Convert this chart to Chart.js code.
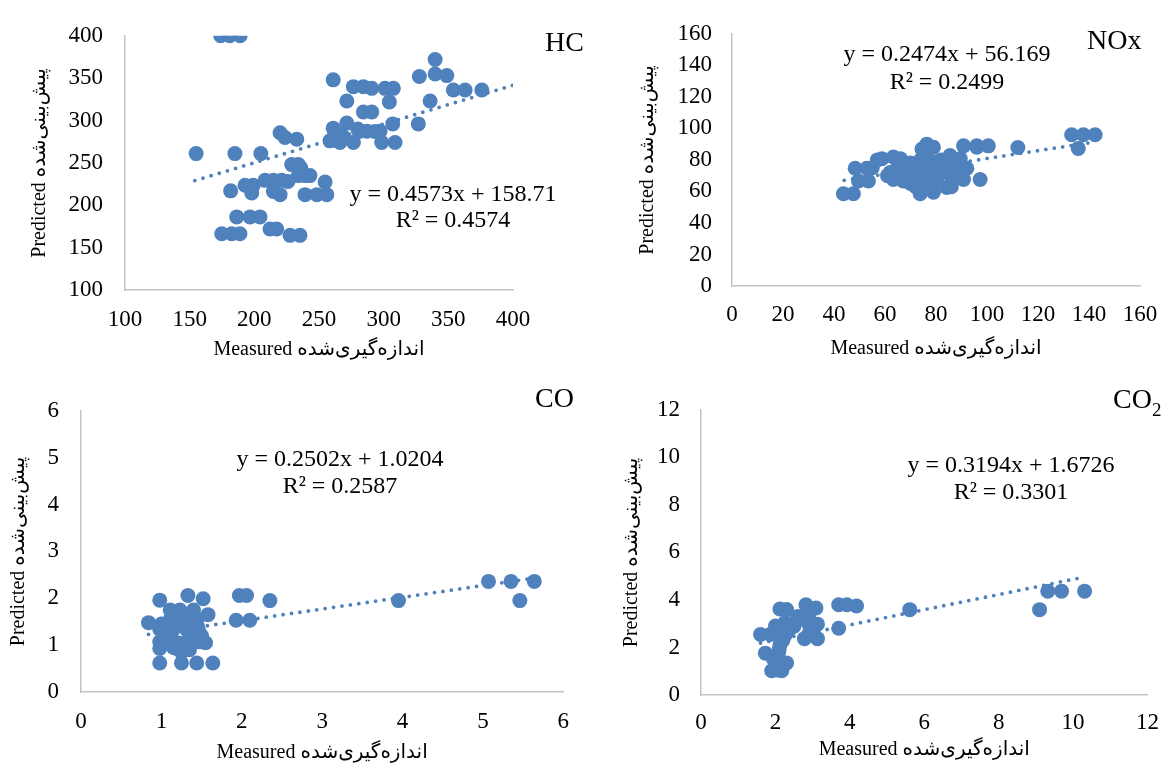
<!DOCTYPE html>
<html>
<head>
<meta charset="utf-8">
<script src="https://cdn.jsdelivr.net/npm/chart.js@4/dist/chart.umd.min.js"></script>
<style>
  body { margin: 0; background: #fff; }
  #wrap { position: relative; width: 1173px; height: 771px; overflow: hidden; }
  canvas { position: absolute; }
</style>
</head>
<body>
<div id="wrap">
  <canvas id="hcChart" width="585" height="375" style="left:0;top:0"></canvas>
  <canvas id="noxChart" width="588" height="375" style="left:585px;top:0"></canvas>
  <canvas id="coChart" width="585" height="396" style="left:0;top:375px"></canvas>
  <canvas id="co2Chart" width="588" height="396" style="left:585px;top:375px"></canvas>
</div>
<script>
// ---- HC (measured vs predicted) ----
const hcMeasured = [174, 181, 189, 155, 185, 205, 261, 271.5, 276.6, 284.3, 290.8, 301, 307.5, 304.4,
    284.3, 290.8, 261, 271.5, 258.5, 266.2, 276.6, 287, 297.2, 298.5, 308.8, 307, 326.8, 335.9,
    327.6, 339.8, 339.8, 348.8, 353.9, 363, 375.9, 219.9, 232.8, 223.7, 234, 234, 239.2, 228.9,
    181.7, 192.8, 199.2, 198, 208.3, 214.7, 221.2, 214.7, 219.9, 239.2, 248.3, 256, 254.7,
    186.4, 196.7, 204.4, 212.1, 217.3, 174.8, 182.5, 188.9, 227.6, 235.3,
    243, 236, 226, 262, 268, 280, 262, 281, 293];
const hcPredicted = [400, 400, 400, 261, 261, 261, 348, 323, 340, 340, 338, 338, 338, 322,
    310, 310, 291, 297, 276, 274, 274, 287.5, 287.5, 274, 274, 296, 296, 323,
    352, 372, 355, 353, 336, 336, 336, 285.6, 278, 280, 248, 235, 235, 248,
    217, 223.7, 223.7, 214.4, 229.4, 229.4, 229.4, 216.2, 212.5, 212.5, 212.5, 212.5, 227.5,
    186.3, 186.3, 186.3, 172, 172, 166.4, 166.4, 166.4, 164.5, 164.5,
    235, 244, 228, 287, 282, 290, 277, 287, 287];
const hcTrendX = [154, 400];
const hcSlope = 0.4573, hcIntercept = 158.71;

// ---- NOx ----
const noxMeasured = [43.7, 47.6, 48.3, 52.9, 49.6, 53.5, 58.8, 63.3, 66, 63.3, 67.2, 72.5, 68.6, 73.9,
    76.4, 74.5, 79, 81.6, 73.8, 79, 84.2, 85.5, 89.5, 80.3, 90.8, 96, 100.5, 92.1, 90.8, 97.3,
    112.1, 133.2, 137.8, 142.4, 135.8, 55, 62, 70, 76, 78, 83, 86, 72, 77,
    57, 65, 68, 74, 79, 82, 84, 88, 61, 70, 76, 80, 86, 96];
const noxPredicted = [58.5, 58.5, 74.7, 74.7, 66.6, 66.6, 80.8, 81.8, 80.8, 67.6, 66.6, 68.6, 74.7, 74.7,
    90, 86.9, 78.7, 72.7, 58.5, 59.5, 62.5, 82.8, 80.8, 66.6, 88.9, 88.9, 88.9, 74.7, 67.6, 67.6,
    87.9, 96, 96, 96, 87.3, 75, 72, 78, 84, 74, 77, 70, 63, 62,
    80, 75, 72, 80, 88, 80, 72, 75, 70, 65, 67, 75, 63, 88];
const noxTrendX = [44, 142];
const noxSlope = 0.2474, noxIntercept = 56.169;

// ---- CO ----
const coMeasured = [0.98, 1.33, 1.52, 0.84, 1.11, 1.23, 1.40, 1.58, 0.98, 1.15, 1.31, 1.46, 1.11, 1.44,
    0.98, 1.15, 1.31, 1.48, 0.98, 1.19, 0.98, 1.25, 1.44, 1.64, 1.97, 2.06, 2.35, 1.93, 2.10,
    3.95, 5.07, 5.35, 5.64, 5.46, 1.05, 1.2, 1.35, 1.5, 1.25, 1.4, 1.55,
    1.1, 1.2, 1.3, 1.45, 1.0, 1.15, 1.35, 1.25];
const coPredicted = [1.96, 2.06, 1.99, 1.48, 1.75, 1.75, 1.75, 1.65, 1.34, 1.34, 1.34, 1.34, 1.55, 1.55,
    1.07, 1.07, 1.07, 1.07, 0.93, 0.93, 0.62, 0.62, 0.62, 0.62, 2.06, 2.06, 1.95, 1.53, 1.53,
    1.95, 2.36, 2.36, 2.36, 1.95, 1.2, 1.45, 1.1, 1.2, 0.85, 1.55, 1.05,
    1.3, 1.05, 1.6, 1.4, 1.45, 0.95, 0.9, 1.7];
const coTrendX = [0.84, 5.64];
const coSlope = 0.2502, coIntercept = 1.0204;

// ---- CO2 ----
const co2Measured = [2.12, 2.82, 3.09, 3.70, 3.92, 4.18, 1.60, 1.86, 2.26, 2.52, 2.26, 2.87, 3.13,
    2.78, 3.13, 3.70, 1.73, 2.08, 1.90, 2.17, 2.30, 2.12, 5.61, 9.10, 9.32, 9.69, 10.31,
    2.0, 2.4, 2.2, 1.95, 2.05, 2.6, 2.9,
    2.2, 2.5, 2.1, 2.3, 2.05, 2.9, 3.0];
const co2Predicted = [3.62, 3.80, 3.66, 3.80, 3.80, 3.75, 2.55, 2.55, 3.05, 3.05, 2.52, 3.05, 2.98,
    2.37, 2.37, 2.81, 1.76, 1.76, 1.02, 1.02, 1.35, 2.10, 3.59, 3.59, 4.37, 4.37, 4.37,
    2.9, 2.8, 2.3, 1.5, 1.25, 3.3, 2.6,
    2.6, 2.9, 1.9, 3.6, 1.05, 3.4, 2.9];
const co2TrendX = [1.6, 10.15];
const co2Slope = 0.3194, co2Intercept = 1.6726;

const BLUE = '#4F81BD';
const AXIS_GREY = '#C4C4C4';
const SERIF = "'Liberation Serif', 'Times New Roman', serif";
const TITLE_FONT = "'Liberation Serif', 'DejaVu Sans', serif";

function zipPoints(xs, ys) {
    return xs.map((x, i) => ({ x: x, y: ys[i] }));
}

// equation text + panel name, drawn on top of the plot
const labelPlugin = {
    id: 'panelLabels',
    afterDraw(chart, args, opts) {
        const ctx = chart.ctx;
        ctx.save();
        ctx.fillStyle = '#000';
        ctx.textBaseline = 'middle';
        ctx.textAlign = 'center';
        ctx.font = '24px ' + SERIF;
        opts.eq.forEach(l => ctx.fillText(l.text, l.x, l.y));
        ctx.textAlign = 'left';
        ctx.font = '28px ' + SERIF;
        ctx.fillText(opts.name, opts.nameX, opts.nameY);
        if (opts.sub) {
            const w = ctx.measureText(opts.name).width;
            ctx.font = '19px ' + SERIF;
            ctx.fillText(opts.sub, opts.nameX + w, opts.nameY + 10);
        }
        ctx.restore();
    }
};

function makePanel(id, p) {
    const trend = p.trendX.map(x => ({ x: x, y: p.slope * x + p.intercept }));
    return new Chart(document.getElementById(id), {
        type: 'scatter',
        data: {
            datasets: [{
                data: zipPoints(p.xs, p.ys),
                backgroundColor: BLUE,
                borderWidth: 0,
                pointRadius: 7.5,
                pointHoverRadius: 7.5
            }, {
                type: 'line',
                data: trend,
                borderColor: BLUE,
                borderWidth: 3.8,
                borderDash: [0, 8.5],
                borderCapStyle: 'round',
                pointRadius: 0,
                fill: false
            }]
        },
        options: {
            responsive: false,
            animation: false,
            events: [],
            layout: { padding: { left: 0, top: p.padTop, right: p.padRight, bottom: 0 } },
            plugins: {
                legend: { display: false },
                tooltip: { enabled: false },
                panelLabels: p.labels
            },
            scales: {
                x: {
                    type: 'linear',
                    min: p.xMin, max: p.xMax,
                    ticks: { stepSize: p.xStep, padding: p.xTickPad, color: '#000', font: { family: SERIF, size: 23 } },
                    grid: { display: true, drawOnChartArea: false, drawTicks: false },
                    border: { display: true, color: AXIS_GREY, width: 1.5 },
                    title: {
                        display: true, text: 'Measured اندازه‌گیری‌شده', color: '#000',
                        font: { family: TITLE_FONT, size: 20 }, padding: { top: 0, bottom: p.xTitlePad }
                    },
                    afterFit: s => { s.height = p.xHeight; }
                },
                y: {
                    type: 'linear',
                    min: p.yMin, max: p.yMax,
                    ticks: { stepSize: p.yStep, padding: p.yTickPad, color: '#000', font: { family: SERIF, size: 23 } },
                    grid: { display: true, drawOnChartArea: false, drawTicks: false },
                    border: { display: true, color: AXIS_GREY, width: 1.5 },
                    title: {
                        display: true, text: 'Predicted پیش‌بینی‌شده', color: '#000',
                        font: { family: TITLE_FONT, size: 20 }, padding: { top: p.yTitlePad, bottom: 0 }
                    },
                    afterFit: s => { s.width = p.yWidth; }
                }
            }
        },
        plugins: [labelPlugin]
    });
}

makePanel('hcChart', {
    xs: hcMeasured, ys: hcPredicted, trendX: hcTrendX, slope: hcSlope, intercept: hcIntercept,
    xMin: 100, xMax: 400, xStep: 50, yMin: 100, yMax: 400, yStep: 50,
    padTop: 23, padRight: 72, yWidth: 125, xHeight: 85,
    xTickPad: 16, yTickPad: 22, xTitlePad: 13, yTitlePad: 28,
    labels: {
        eq: [{ text: 'y = 0.4573x + 158.71', x: 453, y: 195 }, { text: 'R² = 0.4574', x: 453, y: 221 }],
        name: 'HC', nameX: 545, nameY: 44
    }
});

makePanel('noxChart', {
    xs: noxMeasured, ys: noxPredicted, trendX: noxTrendX, slope: noxSlope, intercept: noxIntercept,
    xMin: 0, xMax: 160, xStep: 20, yMin: 0, yMax: 160, yStep: 20,
    padTop: 23, padRight: 33, yWidth: 147, xHeight: 89,
    xTickPad: 15, yTickPad: 20, xTitlePad: 14, yTitlePad: 51,
    labels: {
        eq: [{ text: 'y = 0.2474x + 56.169', x: 362, y: 55 }, { text: 'R² = 0.2499', x: 362, y: 83 }],
        name: 'NOx', nameX: 502, nameY: 42
    }
});

makePanel('coChart', {
    xs: coMeasured, ys: coPredicted, trendX: coTrendX, slope: coSlope, intercept: coIntercept,
    xMin: 0, xMax: 6, xStep: 1, yMin: 0, yMax: 6, yStep: 1,
    padTop: 25, padRight: 20, yWidth: 81, xHeight: 79,
    xTickPad: 16, yTickPad: 22, xTitlePad: 6, yTitlePad: 7,
    labels: {
        eq: [{ text: 'y = 0.2502x + 1.0204', x: 340, y: 85 }, { text: 'R² = 0.2587', x: 340, y: 112 }],
        name: 'CO', nameX: 535, nameY: 25
    }
});

makePanel('co2Chart', {
    xs: co2Measured, ys: co2Predicted, trendX: co2TrendX, slope: co2Slope, intercept: co2Intercept,
    xMin: 0, xMax: 12, xStep: 2, yMin: 0, yMax: 12, yStep: 2,
    padTop: 25, padRight: 16, yWidth: 116, xHeight: 76,
    xTickPad: 14, yTickPad: 21, xTitlePad: 9, yTitlePad: 35,
    labels: {
        eq: [{ text: 'y = 0.3194x + 1.6726', x: 426, y: 91 }, { text: 'R² = 0.3301', x: 426, y: 118 }],
        name: 'CO', sub: '2', nameX: 528, nameY: 26
    }
});
</script>
</body>
</html>
